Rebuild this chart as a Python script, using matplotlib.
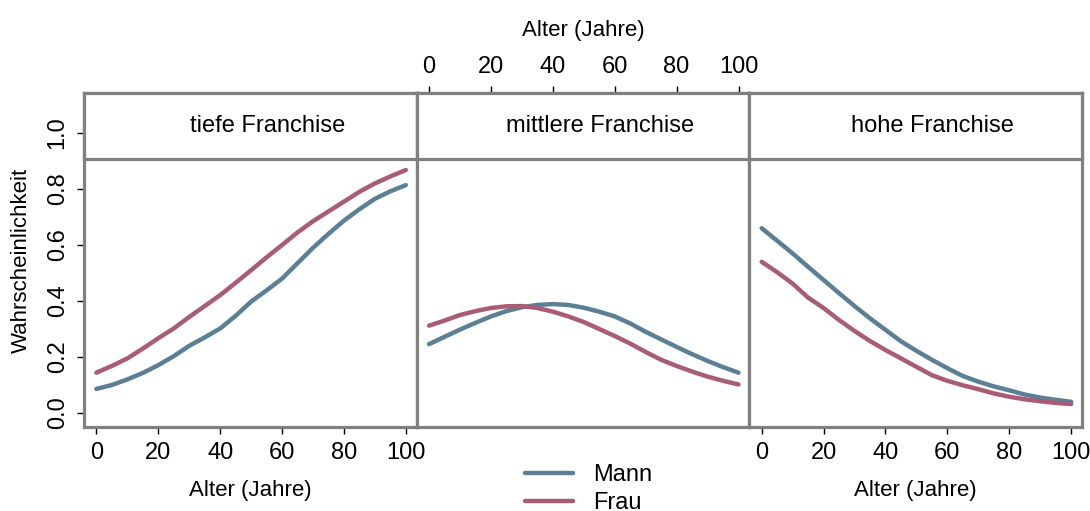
import matplotlib
matplotlib.use('Agg')
import matplotlib.pyplot as plt
from matplotlib.patches import Rectangle

plt.rcParams['font.family'] = ['Liberation Sans', 'DejaVu Sans']

# Predicted probability by age, per deductible level and sex
alter = [0, 5, 10, 15, 20, 25, 30, 35, 40, 45, 50, 55, 60, 65, 70, 75, 80, 85, 90, 95, 100]

tief_mann = [0.086, 0.100, 0.120, 0.143, 0.171, 0.203, 0.240, 0.270, 0.302, 0.347, 0.398,
             0.438, 0.480, 0.535, 0.590, 0.640, 0.687, 0.728, 0.765, 0.792, 0.814]
tief_frau = [0.144, 0.168, 0.195, 0.230, 0.267, 0.302, 0.343, 0.382, 0.421, 0.465, 0.510,
             0.556, 0.600, 0.645, 0.685, 0.720, 0.755, 0.790, 0.820, 0.845, 0.868]

mittel_mann = [0.246, 0.272, 0.298, 0.322, 0.345, 0.364, 0.378, 0.386, 0.389, 0.386, 0.376,
               0.362, 0.345, 0.320, 0.290, 0.263, 0.236, 0.210, 0.186, 0.164, 0.144]
mittel_frau = [0.312, 0.330, 0.350, 0.364, 0.375, 0.381, 0.382, 0.375, 0.362, 0.345, 0.325,
               0.300, 0.275, 0.248, 0.218, 0.190, 0.168, 0.148, 0.130, 0.115, 0.102]

hoch_mann = [0.660, 0.615, 0.570, 0.522, 0.475, 0.428, 0.382, 0.338, 0.297, 0.256, 0.222,
             0.190, 0.160, 0.132, 0.112, 0.095, 0.081, 0.066, 0.055, 0.047, 0.040]
hoch_frau = [0.540, 0.503, 0.462, 0.412, 0.375, 0.332, 0.293, 0.257, 0.225, 0.195, 0.165,
             0.135, 0.115, 0.099, 0.085, 0.070, 0.058, 0.049, 0.042, 0.036, 0.032]

panels = ['tiefe Franchise', 'mittlere Franchise', 'hohe Franchise']
mann = [tief_mann, mittel_mann, hoch_mann]
frau = [tief_frau, mittel_frau, hoch_frau]

x_ticks = [0, 20, 40, 60, 80, 100]
y_ticks = [0.0, 0.2, 0.4, 0.6, 0.8, 1.0]
y_labels = ['0.0', '0.2', '0.4', '0.6', '0.8', '1.0']

C_MANN = '#5b7f94'
C_FRAU = '#a85c76'
FRAME = '#808080'

W, H = 1090, 511
fig = plt.figure(figsize=(W / 100, H / 100), dpi=100)

left, right, top, bottom = 84, 1082, 93, 427
pw = (right - left) / 3
strip_frac = (bottom - 159) / (bottom - top)

for i, name in enumerate(panels):
    ax = fig.add_axes([(left + i * pw) / W, 1 - bottom / H, pw / W, (bottom - top) / H])
    l1, = ax.plot(alter, mann[i], color=C_MANN, lw=3.2, solid_capstyle='round', label='Mann')
    l2, = ax.plot(alter, frau[i], color=C_FRAU, lw=3.2, solid_capstyle='round', label='Frau')
    ax.set_xlim(-4, 103.5)
    ax.set_ylim(-0.05, 1.143)
    for s in ax.spines.values():
        s.set_color(FRAME)
        s.set_linewidth(2.3)

    # strip header, title sits a little right of centre
    ax.add_patch(Rectangle((0, strip_frac), 1, 1 - strip_frac, transform=ax.transAxes,
                           facecolor='white', edgecolor=FRAME, lw=2.3, zorder=5, clip_on=False))
    ax.text(0.5 + 17 / pw, (strip_frac + 1) / 2, name, transform=ax.transAxes,
            ha='center', va='center', fontsize=17, zorder=6)

    ax.set_xticks(x_ticks)
    ax.set_xticklabels([str(t) for t in x_ticks])
    ax.tick_params(axis='both', labelsize=17, length=5, width=1, color='black', pad=6)
    if i == 1:
        ax.xaxis.tick_top()
        ax.xaxis.set_label_position('top')
        ax.set_xlabel('Alter (Jahre)', fontsize=16, labelpad=14)
    else:
        ax.set_xlabel('Alter (Jahre)', fontsize=16, labelpad=11)

    if i == 0:
        ax.set_yticks(y_ticks)
        ax.set_yticklabels(y_labels, rotation=90, va='center')
        ax.tick_params(axis='y', pad=6)
        ax.set_ylabel('Wahrscheinlichkeit', fontsize=16, labelpad=11)
    else:
        ax.set_yticks([])

fig.legend(handles=[l1, l2], loc='center', bbox_to_anchor=(0.54, 0.043), frameon=False,
           fontsize=17, handlelength=2.0, handletextpad=0.85, labelspacing=0.25)

fig.savefig('out.png', dpi=100)
